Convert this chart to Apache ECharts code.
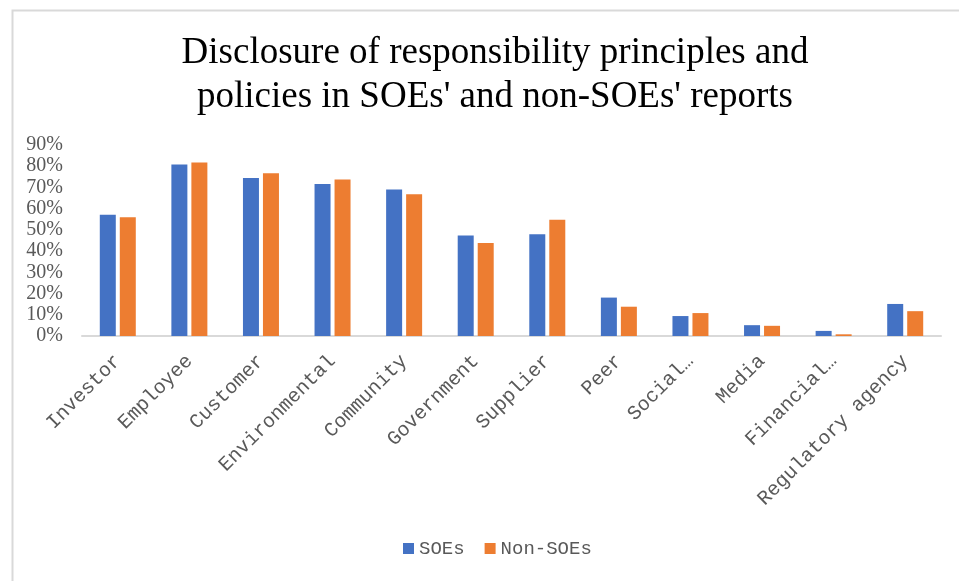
<!DOCTYPE html>
<html>
<head>
<meta charset="utf-8">
<script src="https://cdn.jsdelivr.net/npm/echarts@6/dist/echarts.min.js"></script>
<style>
html,body{margin:0;padding:0;background:#fff;}
#chart{width:959px;height:581px;}
</style>
</head>
<body>
<div id="chart"></div>
<script>
const categories = ['Investor','Employee','Customer','Environmental','Community','Government','Supplier','Peer','Social…','Media','Financial…','Regulatory agency'];
const soes =    [57.1, 80.8, 74.4, 71.6, 69.0, 47.3, 47.9, 18.1, 9.4, 5.1, 2.4, 15.1];
const nonSoes = [55.9, 81.7, 76.7, 73.8, 66.8, 43.8, 54.8, 13.8, 10.8, 4.8, 0.8, 11.7];
const yTicks = [0, 10, 20, 30, 40, 50, 60, 70, 80, 90];

const chart = echarts.init(document.getElementById('chart'), null, {renderer:'canvas'});
chart.setOption({
  animation: false,
  backgroundColor: '#fff',
  graphic: [{
    type: 'rect', left: 10, top: 8,
    shape: {width: 980, height: 600},
    style: {fill: 'none', stroke: '#d9d9d9', lineWidth: 2}, silent: true
  }],
  title: {
    text: 'Disclosure of responsibility principles and\npolicies in SOEs\' and non-SOEs\' reports',
    left: 490, top: 26, textAlign: 'center',
    textStyle: {fontFamily: 'Liberation Serif', fontSize: 37, fontWeight: 'normal', color: '#000', lineHeight: 44}
  },
  legend: {
    data: ['SOEs','Non-SOEs'], bottom: 18, left: 398,
    icon: 'rect', itemWidth: 11, itemHeight: 11, itemGap: 20,
    textStyle: {fontFamily: 'Liberation Mono', fontSize: 19, color: '#595959'}
  },
  grid: {left: 82, right: 18, top: 145, bottom: 245, containLabel: false},
  xAxis: {
    type: 'category', data: categories,
    axisLine: {lineStyle: {color: '#d9d9d9', width: 2}},
    axisTick: {show: false},
    axisLabel: {interval: 0, rotate: 45, margin: 22, fontFamily: 'Liberation Mono', fontSize: 20, color: '#595959'}
  },
  yAxis: {
    type: 'value', min: 0, max: 90, interval: 10,
    axisLine: {show: false}, axisTick: {show: false}, splitLine: {show: false},
    axisLabel: {formatter: '{value}%', fontFamily: 'Liberation Serif', fontSize: 20, color: '#595959', margin: 19, padding: [5, 0, 0, 0]}
  },
  series: [
    {name: 'SOEs', type: 'bar', data: soes, barWidth: 16, barGap: '25%',
     itemStyle: {color: '#4472C4'}},
    {name: 'Non-SOEs', type: 'bar', data: nonSoes, barWidth: 16,
     itemStyle: {color: '#ED7D31'}}
  ]
});
</script>
</body>
</html>
